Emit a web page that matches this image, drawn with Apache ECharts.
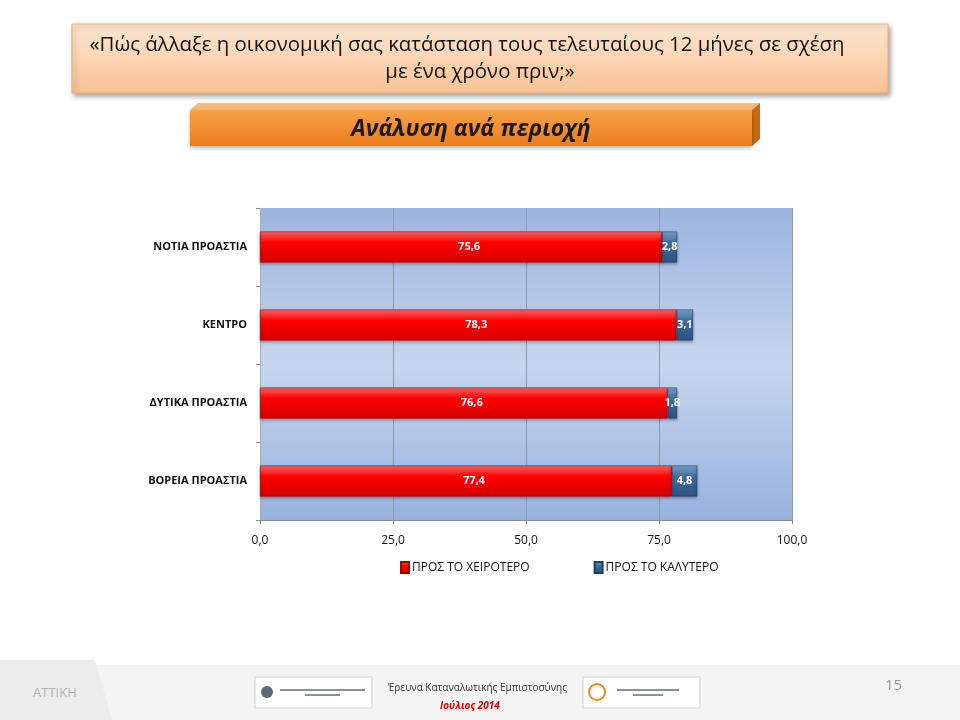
<!DOCTYPE html>
<html><head><meta charset="utf-8">
<script src="https://cdn.jsdelivr.net/npm/echarts@6/dist/echarts.min.js"></script>
<style>html,body{margin:0;padding:0;background:#fff}#c{width:960px;height:720px}</style>
</head><body><div id="c"></div>
<script>
const categories = ['ΝΟΤΙΑ ΠΡΟΑΣΤΙΑ', 'ΚΕΝΤΡΟ', 'ΔΥΤΙΚΑ ΠΡΟΑΣΤΙΑ', 'ΒΟΡΕΙΑ ΠΡΟΑΣΤΙΑ'];
const worse = [75.6, 78.3, 76.6, 77.4];
const better = [2.8, 3.1, 1.8, 4.8];
const seriesNames = ['ΠΡΟΣ ΤΟ ΧΕΙΡΟΤΕΡΟ', 'ΠΡΟΣ ΤΟ ΚΑΛΥΤΕΡΟ'];
const xTicks = [0, 25, 50, 75, 100];

const FONT = '"Open Sans", "Noto Sans", sans-serif';
const fmt = v => v.toFixed(1).replace('.', ',');
const chart = echarts.init(document.getElementById('c'), null, {renderer: 'canvas'});

const grad = (a, b, c) => ({type: 'linear', x: 0, y: 0, x2: 0, y2: 1,
  colorStops: [{offset: 0, color: a}, {offset: 0.35, color: b}, {offset: 1, color: c}]});

chart.setOption({
  backgroundColor: '#ffffff',
  animation: false,
  textStyle: {fontFamily: FONT},
  grid: {left: 260, right: 168, top: 208, bottom: 200, show: true, borderWidth: 0,
    backgroundColor: {type: 'linear', x: 0, y: 0, x2: 0, y2: 1,
      colorStops: [{offset: 0, color: '#9bb4e0'}, {offset: 0.5, color: '#c6d5ee'}, {offset: 1, color: '#97b2de'}]}},
  legend: {
    data: seriesNames, bottom: 141, left: 395, itemGap: 64,
    itemWidth: 8, itemHeight: 11, icon: 'rect',
    textStyle: {fontSize: 12, color: '#111', fontFamily: FONT, padding: [0, 0, 0, -2]}
  },
  xAxis: {
    type: 'value', min: xTicks[0], max: xTicks[xTicks.length - 1], interval: 25,
    axisLine: {show: true, lineStyle: {color: '#8a8a8a'}},
    axisTick: {show: true, length: 4, lineStyle: {color: '#8a8a8a'}},
    axisLabel: {formatter: v => fmt(v), fontSize: 12, color: '#111', margin: 15},
    splitLine: {show: true, lineStyle: {color: '#8f96a6', width: 1}}
  },
  yAxis: {
    type: 'category', data: categories, inverse: true,
    axisLine: {show: true, lineStyle: {color: '#aaaaaa'}},
    axisTick: {show: true, length: 4, lineStyle: {color: '#8a8a8a'}},
    axisLabel: {fontSize: 11, fontWeight: 'bold', color: '#111', margin: 13}
  },
  series: [
    {name: seriesNames[0], type: 'bar', stack: 's', barWidth: 31, data: worse,
      itemStyle: {color: grad('#ff6a6a', '#ff0000', '#d40000'), borderColor: '#a00000', borderWidth: 0.6,
        shadowColor: 'rgba(0,0,0,0.35)', shadowBlur: 3, shadowOffsetY: 2},
      label: {show: true, position: 'inside', formatter: p => fmt(p.value), color: '#fff',
        fontWeight: 'bold', fontSize: 11, offset: [8, 0]}},
    {name: seriesNames[1], type: 'bar', stack: 's', barWidth: 31, data: better,
      itemStyle: {color: grad('#7fa3cf', '#3f6c9e', '#2c5282'), borderColor: '#1f3d66', borderWidth: 0.6,
        shadowColor: 'rgba(0,0,0,0.35)', shadowBlur: 3, shadowOffsetY: 2},
      label: {show: true, position: 'inside', formatter: p => fmt(p.value), color: '#fff',
        fontWeight: 'bold', fontSize: 11}}
  ],
  graphic: [
    // footer
    {type: 'rect', shape: {x: 0, y: 665, width: 960, height: 55}, style: {fill: '#f4f4f4'}, z: -10},
    {type: 'polygon', shape: {points: [[0, 660], [95, 660], [112, 720], [0, 720]]}, style: {fill: '#ececec'}, z: -9},
    {type: 'text', left: 33, top: 687, style: {text: 'ΑΤΤΙΚΗ', fill: '#b0b0b0', font: '13px ' + FONT}},
    {type: 'text', left: 885, top: 678, style: {text: '15', fill: '#9a9a9a', font: '15px ' + FONT}},
    {type: 'rect', shape: {x: 255, y: 677, width: 117, height: 31}, style: {fill: '#fff', stroke: '#cfcfcf'}},
    {type: 'circle', shape: {cx: 267, cy: 692, r: 6}, style: {fill: '#5a6a78'}},
    {type: 'rect', shape: {x: 280, y: 689, width: 85, height: 2}, style: {fill: '#8a9098'}},
    {type: 'rect', shape: {x: 305, y: 694, width: 35, height: 2}, style: {fill: '#8a9098'}},
    {type: 'text', left: 388, top: 683, style: {text: 'Έρευνα Καταναλωτικής Εμπιστοσύνης', fill: '#333', font: '10px ' + FONT}},
    {type: 'text', left: 440, top: 701, style: {text: 'Ιούλιος 2014', fill: '#d00000', font: 'italic bold 10px ' + FONT}},
    {type: 'rect', shape: {x: 583, y: 677, width: 117, height: 31}, style: {fill: '#fff', stroke: '#cfcfcf'}},
    {type: 'circle', shape: {cx: 597, cy: 692, r: 8}, style: {fill: 'none', stroke: '#f08a1a', lineWidth: 2}},
    {type: 'rect', shape: {x: 617, y: 689, width: 62, height: 2}, style: {fill: '#8a9098'}},
    {type: 'rect', shape: {x: 633, y: 694, width: 30, height: 2}, style: {fill: '#8a9098'}},
    // title box
    {type: 'rect', shape: {x: 72, y: 24, width: 816, height: 69},
      style: {fill: {type: 'linear', x: 0, y: 0, x2: 0, y2: 1,
        colorStops: [{offset: 0, color: '#fde6d2'}, {offset: 1, color: '#f9c293'}]},
        stroke: '#f0b07a', lineWidth: 1, shadowColor: 'rgba(0,0,0,0.35)', shadowBlur: 5, shadowOffsetX: 2, shadowOffsetY: 3}},
    {type: 'text', x: 467, y: 45, style: {text: '«Πώς άλλαξε η οικονομική σας κατάσταση τους τελευταίους 12 μήνες σε σχέση',
      fill: '#111', font: '20.4px ' + FONT, textAlign: 'center', textVerticalAlign: 'middle'}},
    {type: 'text', x: 480, y: 72, style: {text: 'με ένα χρόνο πριν;»', fill: '#111', font: '20.4px ' + FONT,
      textAlign: 'center', textVerticalAlign: 'middle'}},
    // banner
    {type: 'polygon', shape: {points: [[198, 103], [760, 103], [752, 110], [190, 110]]}, style: {fill: '#fbb877'}},
    {type: 'polygon', shape: {points: [[752, 110], [760, 103], [760, 139], [752, 146]]}, style: {fill: '#c9680f'}},
    {type: 'rect', shape: {x: 190, y: 110, width: 562, height: 36},
      style: {fill: {type: 'linear', x: 0, y: 0, x2: 0, y2: 1,
        colorStops: [{offset: 0, color: '#f9a04a'}, {offset: 1, color: '#ea7d1c'}]},
        shadowColor: 'rgba(0,0,0,0.3)', shadowBlur: 4, shadowOffsetY: 2}},
    {type: 'text', x: 471, y: 129, style: {text: 'Ανάλυση ανά περιοχή', fill: '#1a1a1a',
      font: 'italic bold 23px ' + FONT, textAlign: 'center', textVerticalAlign: 'middle'}}
  ]
});
</script></body></html>
